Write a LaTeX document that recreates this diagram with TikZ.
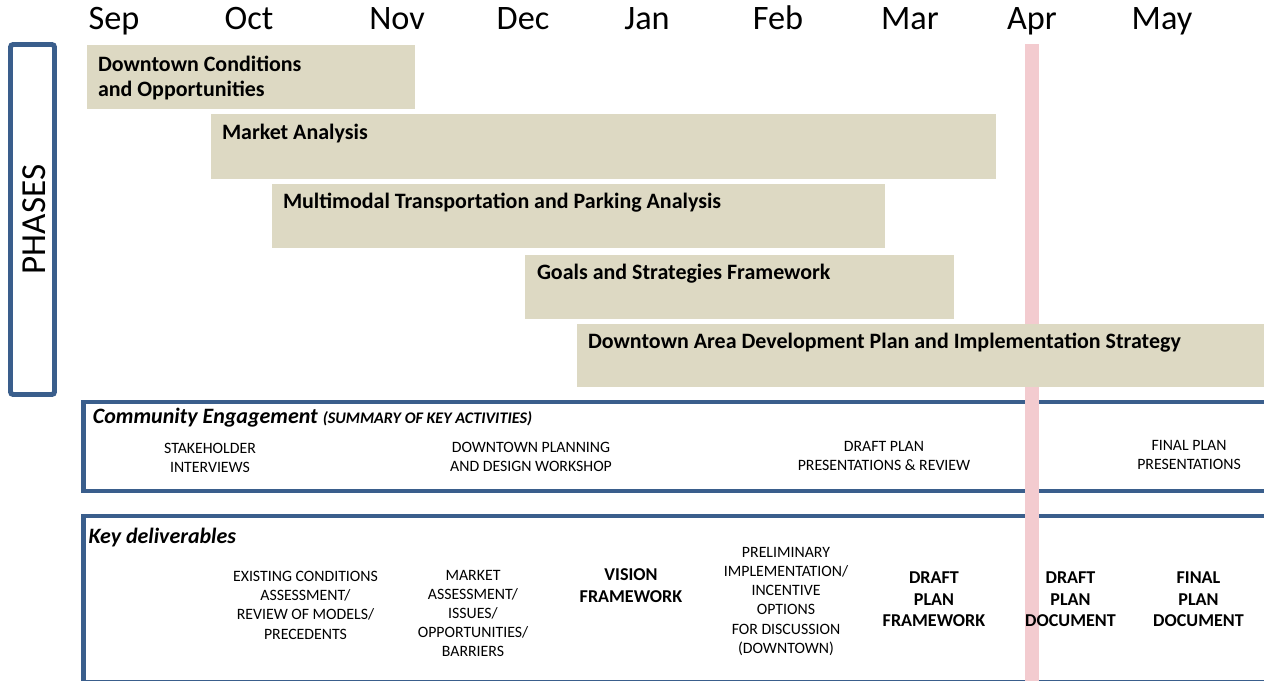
\documentclass[tikz,border=0pt]{standalone}
\usepackage{fontspec}
\setmainfont{Carlito}
\usepackage{tikz}
\usetikzlibrary{fit}
\definecolor{planNavy}{HTML}{3A5E8C}
\definecolor{planTan}{HTML}{DDD9C3}
\definecolor{planPink}{HTML}{F3CBCF}
\definecolor{planInk}{HTML}{000000}
\tikzset{
  monthlabel/.style={font=\fontsize{19.5}{23}\selectfont,anchor=base,inner sep=0pt,text=planInk},
  planframe/.style={draw=planNavy,line width=2.8pt,inner sep=0pt},
  phasebar/.style={fill=planTan,inner sep=0pt},
  aprilband/.style={fill=planPink,inner sep=0pt},
  phasetitle/.style={font=\bfseries\fontsize{12.5}{13.8}\selectfont,anchor=base west,
    align=left,inner sep=0pt,text=planInk},
  sectiontitle/.style={font=\bfseries\itshape\fontsize{12.5}{14}\selectfont,
    anchor=base west,inner sep=0pt,text=planInk},
  activity/.style={font=\fontsize{9}{10.9}\selectfont,align=center,anchor=north,
    inner sep=0pt,text=planInk},
  deliverable/.style={activity,font=\bfseries\fontsize{10.3}{12.2}\selectfont}
}

\begin{document}
\begin{tikzpicture}[x=0.02cm,y=-0.02cm]
  \useasboundingbox (0,0) rectangle (1264,680);
  \clip (0,0) rectangle (1264,680);
  \foreach \m/\x in {Sep/114,Oct/249,Nov/397,Dec/523,Jan/647,Feb/778,Mar/910,Apr/1032,May/1162}
    \node[monthlabel] (month\m) at (\x,29) {\m};
  \node[planframe,rounded corners=1.5pt,fit={(10.5,44.5) (54.5,394.5)}] (phases) {};
  \node[rotate=90,font=\fontsize{20}{24}\selectfont,inner sep=0pt] (phasesLabel) at (34.5,219.5) {PHASES};
  % engagement and deliverables frames run off the right edge
  \node[planframe,fit={(83.5,402) (1290,491)}] (engagement) {};
  \node[planframe,fit={(83.5,516) (1290,682)}] (deliverables) {};
  \node[aprilband,fit={(1025,44) (1038.5,690)}] (aprilMark) {};
  \node[phasebar,fit={(87,45) (415,109)}] (conditions) {};
  \node[phasebar,fit={(211,114) (996,179)}] (market) {};
  \node[phasebar,fit={(272,184) (885,248)}] (transport) {};
  \node[phasebar,fit={(525,255) (954,319)}] (goals) {};
  \node[phasebar,fit={(577,324) (1290,387)}] (strategy) {};
  \node[phasetitle] (conditionsTitle) at ([shift={(11,51.5)}]conditions.north west)
    {Downtown Conditions\\and Opportunities};
  \node[phasetitle] (marketTitle) at ([shift={(11,26)}]market.north west) {Market Analysis};
  \node[phasetitle] (transportTitle) at ([shift={(11,25)}]transport.north west)
    {Multimodal Transportation and Parking Analysis};
  \node[phasetitle] (goalsTitle) at ([shift={(12,25)}]goals.north west) {Goals and Strategies Framework};
  \node[phasetitle] (strategyTitle) at ([shift={(11,25)}]strategy.north west)
    {Downtown Area Development Plan and Implementation Strategy};
  \node[sectiontitle] (engagementTitle) at ([shift={(11.5,24)}]engagement.north west)
    {Community Engagement {\fontsize{9.2}{10}\selectfont (SUMMARY OF KEY ACTIVITIES)}};
  \node[activity] (interviews) at (210,443) {STAKEHOLDER\\INTERVIEWS};
  \node[activity] (workshop) at (531,442) {DOWNTOWN PLANNING\\AND DESIGN WORKSHOP};
  \node[activity] (draftReview) at (884,441) {DRAFT PLAN\\PRESENTATIONS \& REVIEW};
  \node[activity] (finalPresentations) at (1189,440) {FINAL PLAN\\PRESENTATIONS};
  \node[sectiontitle] (deliverablesTitle) at ([shift={(7.2,30)}]deliverables.north west) {Key deliverables};
  \node[activity] (existing) at (305.5,571)
    {EXISTING CONDITIONS\\ASSESSMENT/\\REVIEW OF MODELS/\\PRECEDENTS};
  \node[activity] (marketReport) at (473,569.5)
    {MARKET\\ASSESSMENT/\\ISSUES/\\OPPORTUNITIES/\\BARRIERS};
  \node[deliverable] (vision) at (631,568.5) {VISION\\FRAMEWORK};
  \node[activity] (incentives) at (786,547)
    {PRELIMINARY\\IMPLEMENTATION/\\INCENTIVE\\OPTIONS\\FOR DISCUSSION\\(DOWNTOWN)};
  \node[deliverable] (draftFramework) at (934,571.8) {DRAFT\\PLAN\\FRAMEWORK};
  \node[deliverable] (draftDocument) at (1070.5,571.8) {DRAFT\\PLAN\\DOCUMENT};
  \node[deliverable] (finalDocument) at (1198.5,571.8) {FINAL\\PLAN\\DOCUMENT};
\end{tikzpicture}
\end{document}
